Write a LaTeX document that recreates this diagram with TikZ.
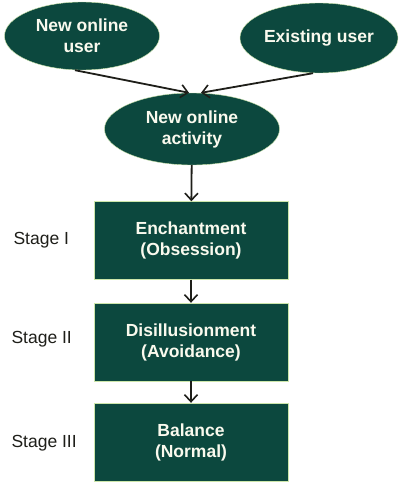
\documentclass[tikz,border=0pt]{standalone}
\usepackage{fontspec}
\setmainfont{Liberation Sans}
\usetikzlibrary{positioning,arrows.meta,shapes.geometric}
\definecolor{stTeal}{RGB}{12,72,62}
\definecolor{stEdge}{RGB}{205,230,170}
\definecolor{stInk}{RGB}{30,30,25}
\definecolor{stText}{RGB}{250,250,238}
\tikzset{
    base/.style={font=\fontsize{17.5}{21}\selectfont\bfseries, align=center, text=stText},
    oval/.style={base, ellipse, draw=stEdge, fill=stTeal, inner sep=0pt},
    stagebox/.style={base, rectangle, draw=stEdge, fill=stTeal,
                     minimum width=194pt, minimum height=78pt},
    flow/.style={-{Straight Barb[length=7pt,width=13pt,line width=1.6pt]}, line width=1.8pt, color=stInk},
    stagelabel/.style={font=\fontsize{17.5}{21}\selectfont, text=stInk, anchor=west}
}
\begin{document}
\begin{tikzpicture}[x=1pt, y=-1pt]
  \useasboundingbox (0,0) rectangle (403,503);

  % Sources
  \node[oval, minimum width=155pt, minimum height=68pt] (newuser) at (82,36) {New online\\user};
  \node[oval, minimum width=158pt, minimum height=70pt] (olduser) at (319,38) {Existing user};
  \node[oval, minimum width=175pt, minimum height=72pt] (activity) at (192,129) {New online\\activity};

  % Stages
  \node[stagebox] (enchant) at (191,240.5) {Enchantment\\(Obsession)};
  \node[stagebox] (disill) at (191,342) {Disillusionment\\(Avoidance)};
  \node[stagebox] (balance) at (191,442) {Balance\\(Normal)};

  \node[stagelabel] (stageone) at (10,240) {Stage I};
  \node[stagelabel] (stagetwo) at (8,339) {Stage II};
  \node[stagelabel] (stagethree) at (8,443) {Stage III};

  % Arrows
  \draw[flow] ([xshift=-7pt]newuser.south) -- ([xshift=-3pt]activity.north);
  \draw[flow] ([xshift=-6pt]olduser.south) -- ([xshift=9pt]activity.north);
  \draw[flow] (activity) -- (enchant);
  \draw[flow] (enchant) -- (disill);
  \draw[flow] (disill) -- (balance);
\end{tikzpicture}
\end{document}
